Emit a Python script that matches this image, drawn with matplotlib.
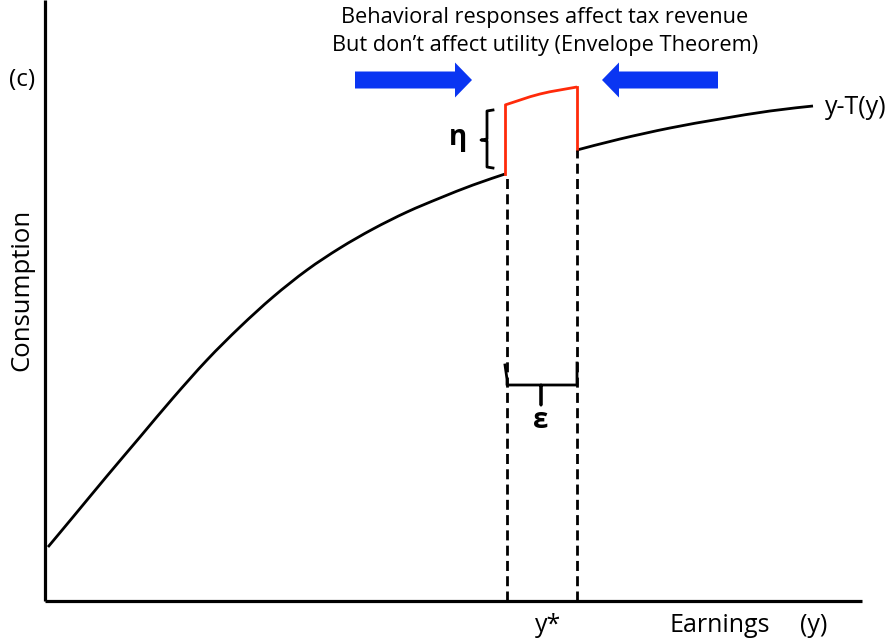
import numpy as np
import matplotlib.pyplot as plt
from matplotlib.patches import FancyArrow, PathPatch
from matplotlib.path import Path

plt.rcParams['font.family'] = ['Open Sans', 'DejaVu Sans']

# y-T(y): consumption curve (earnings, consumption)
kurva_kiri_x = [3, 28, 62, 95, 128, 162, 195, 228, 262, 295, 328, 362, 395, 428, 460]
kurva_kiri_y = [54, 84, 125, 164, 203, 241, 274, 304, 331, 353, 372, 389, 403, 416, 427]
kurva_kanan_x = [532, 575, 625, 675, 725, 768]
kurva_kanan_y = [451, 462, 473, 482, 490, 495]

# bagian merah (perubahan pajak kecil di sekitar y*)
merah_atas_x = [460, 495, 532]
merah_atas_y = [496, 507, 514]

y_bintang = 461
y_geser = 532
sumbu_x_max = 817
sumbu_y_max = 601


def kurva_halus(xs, ys):
    # Catmull-Rom lewat titik-titik yang dibaca, digambar sebagai bezier
    p = np.column_stack([xs, ys]).astype(float)
    p = np.vstack([p[0], p, p[-1]])
    verts = [p[1]]
    codes = [Path.MOVETO]
    for i in range(1, len(p) - 2):
        c1 = p[i] + (p[i + 1] - p[i - 1]) / 6
        c2 = p[i + 1] - (p[i + 2] - p[i]) / 6
        verts += [c1, c2, p[i + 1]]
        codes += [Path.CURVE4] * 3
    return Path(verts, codes)


fig = plt.figure(figsize=(8.94, 6.4), dpi=100)
ax = fig.add_axes([0, 0, 1, 1])
ax.set_xlim(-45, 849)
ax.set_ylim(-39, 601)
ax.axis('off')

# sumbu
ax.plot([0, 0], [0, sumbu_y_max], color='black', lw=2.3, solid_capstyle='butt')
ax.plot([0, sumbu_x_max], [0, 0], color='black', lw=2.3, solid_capstyle='butt')

# kurva
ax.add_patch(PathPatch(kurva_halus(kurva_kiri_x, kurva_kiri_y), fill=False,
                       edgecolor='black', lw=2.0))
ax.add_patch(PathPatch(kurva_halus(kurva_kanan_x, kurva_kanan_y), fill=False,
                       edgecolor='black', lw=2.0))
merah = '#ff2a0a'
ax.plot([merah_atas_x[0], merah_atas_x[0]], [kurva_kiri_y[-1], merah_atas_y[0]],
        color=merah, lw=2.0)
ax.plot([merah_atas_x[-1], merah_atas_x[-1]], [kurva_kanan_y[0], merah_atas_y[-1]],
        color=merah, lw=2.0)
ax.add_patch(PathPatch(kurva_halus(merah_atas_x, merah_atas_y), fill=False,
                       edgecolor=merah, lw=2.0))

# garis putus-putus
ax.plot([y_bintang + 1, y_bintang + 1], [0, kurva_kiri_y[-1]], color='black', lw=2.0,
        dashes=(3.6, 1.9))
ax.plot([y_geser, y_geser], [0, kurva_kanan_y[0]], color='black', lw=2.0,
        dashes=(3.6, 1.9))

# kurung kurawal epsilon
bx = [460, 462, 462, 496, 496, 496, 532, 532]
by = [236, 222, 216, 216, 196, 216, 216, 238]
ax.plot(bx, by, color='black', lw=2.0, solid_joinstyle='round')
ax.text(496, 180, 'ε', fontsize=20, fontweight='bold', ha='center', va='center')

# kurung kurawal eta
ex = [448, 442, 442, 436, 442, 442, 448]
ey = [491, 490, 462, 461, 460, 434, 433]
ax.plot(ex, ey, color='black', lw=2.0, solid_joinstyle='round')
ax.text(413, 463, 'η', fontsize=20, fontweight='bold', ha='center', va='center')

# panah biru
biru = '#0a35f2'
ax.add_patch(FancyArrow(310, 521, 100, 0, width=17, head_width=35, head_length=17,
                        length_includes_head=False, color=biru, lw=0))
ax.add_patch(FancyArrow(673, 521, -99, 0, width=17, head_width=35, head_length=17,
                        length_includes_head=False, color=biru, lw=0))

# teks
ax.text(500, 583, 'Behavioral responses affect tax revenue', fontsize=15.7,
        ha='center', va='center')
ax.text(500, 555, 'But don\u2019t affect utility (Envelope Theorem)', fontsize=15.7,
        ha='center', va='center')
ax.text(-23, 521, '(c)', fontsize=17.5, ha='center', va='center')
ax.text(-23, 311, 'Consumption', fontsize=18.5, rotation=90, ha='center', va='center')
ax.text(780, 494, 'y-T(y)', fontsize=18, ha='left', va='center')
ax.text(503, -24, 'y*', fontsize=18, ha='center', va='center')
ax.text(675, -24, 'Earnings', fontsize=18, ha='center', va='center')
ax.text(769, -24, '(y)', fontsize=18, ha='center', va='center')

fig.savefig('out.png', dpi=100)
